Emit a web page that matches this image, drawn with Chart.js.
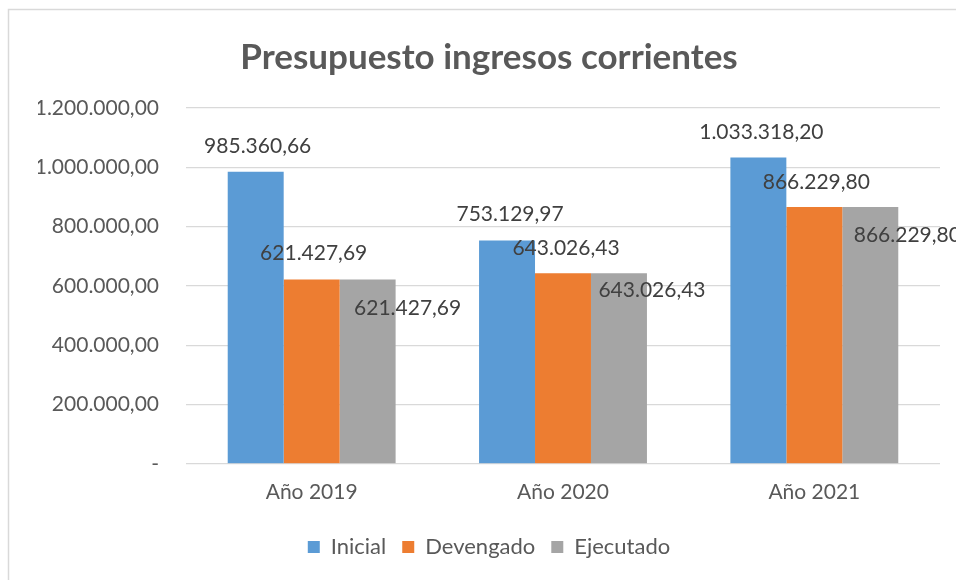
<!DOCTYPE html>
<html>
<head>
<meta charset="utf-8">
<script src="https://cdn.jsdelivr.net/npm/chart.js@4/dist/chart.umd.min.js"></script>
<style>
html,body{margin:0;padding:0;background:#fff;}
canvas{display:block;}
</style>
</head>
<body>
<canvas id="c" width="956" height="580"></canvas>
<script>
const categories = ['Año 2019', 'Año 2020', 'Año 2021'];
const seriesNames = ['Inicial', 'Devengado', 'Ejecutado'];
const inicial = [985360.66, 753129.97, 1033318.20];
const devengado = [621427.69, 643026.43, 866229.80];
const ejecutado = [621427.69, 643026.43, 866229.80];
const yTickValues = [0, 200000, 400000, 600000, 800000, 1000000, 1200000];

const colors = ['#5B9BD5', '#ED7D31', '#A5A5A5'];
// label offsets (px) from the top-centre of each bar, per series
const labelOffsets = [
  [[2, -25], [3, -26], [3, -25]],
  [[2, -26], [3, -25], [2, -25]],
  [[40, 29], [33, 17], [37, 28]]
];
const FONT = 'Lato';

function fmt(v) {
  if (v === 0) return '-';
  const parts = v.toFixed(2).split('.');
  const int = parts[0].replace(/\B(?=(\d{3})+(?!\d))/g, '.');
  return int + ',' + parts[1];
}

const borderPlugin = {
  id: 'frame',
  beforeDraw(chart) {
    const ctx = chart.ctx;
    ctx.save();
    ctx.strokeStyle = '#D9D9D9';
    ctx.lineWidth = 1.5;
    ctx.beginPath();
    ctx.moveTo(8.5, 600);
    ctx.lineTo(8.5, 9.5);
    ctx.lineTo(1000, 9.5);
    ctx.stroke();
    ctx.restore();
  }
};

const labelPlugin = {
  id: 'barLabels',
  afterDatasetsDraw(chart) {
    const ctx = chart.ctx;
    ctx.save();
    ctx.font = '21px ' + FONT;
    ctx.fillStyle = '#404040';
    ctx.textAlign = 'center';
    ctx.textBaseline = 'middle';
    chart.data.datasets.forEach((ds, di) => {
      const meta = chart.getDatasetMeta(di);
      meta.data.forEach((bar, i) => {
        const off = labelOffsets[di][i];
        ctx.fillText(fmt(ds.data[i]), bar.x + off[0], bar.y + off[1]);
      });
    });
    ctx.restore();
  }
};

new Chart(document.getElementById('c'), {
  type: 'bar',
  data: {
    labels: categories,
    datasets: [
      { label: seriesNames[0], data: inicial, backgroundColor: colors[0] },
      { label: seriesNames[1], data: devengado, backgroundColor: colors[1] },
      { label: seriesNames[2], data: ejecutado, backgroundColor: colors[2] }
    ]
  },
  plugins: [borderPlugin, labelPlugin],
  options: {
    responsive: false,
    devicePixelRatio: 1,
    animation: false,
    layout: { padding: { left: 38, right: 16, top: 0, bottom: 12 } },
    datasets: { bar: { categoryPercentage: 0.668, barPercentage: 1.0 } },
    plugins: {
      title: {
        display: true,
        text: 'Presupuesto ingresos corrientes',
        color: '#595959',
        font: { family: FONT, size: 35, weight: 'bold' },
        padding: { top: 37, bottom: 29 }
      },
      legend: {
        position: 'bottom',
        labels: {
          color: '#595959',
          font: { family: FONT, size: 22 },
          boxWidth: 12,
          boxHeight: 12,
          padding: 16
        }
      },
      tooltip: { enabled: false }
    },
    scales: {
      y: {
        min: 0,
        max: 1200000,
        afterBuildTicks(scale) { scale.ticks = yTickValues.map(v => ({ value: v })); },
        afterFit(scale) { scale.width = 148; },
        ticks: {
          color: '#595959',
          font: { family: FONT, size: 21 },
          padding: 27,
          callback: (v) => fmt(v)
        },
        grid: { color: '#D9D9D9', lineWidth: 1.3, drawTicks: false },
        border: { display: false }
      },
      x: {
        afterFit(scale) { scale.height -= 1; },
        ticks: {
          color: '#595959',
          font: { family: FONT, size: 21 },
          padding: 16
        },
        grid: { display: false, drawTicks: false },
        border: { display: false }
      }
    }
  }
});
</script>
</body>
</html>
